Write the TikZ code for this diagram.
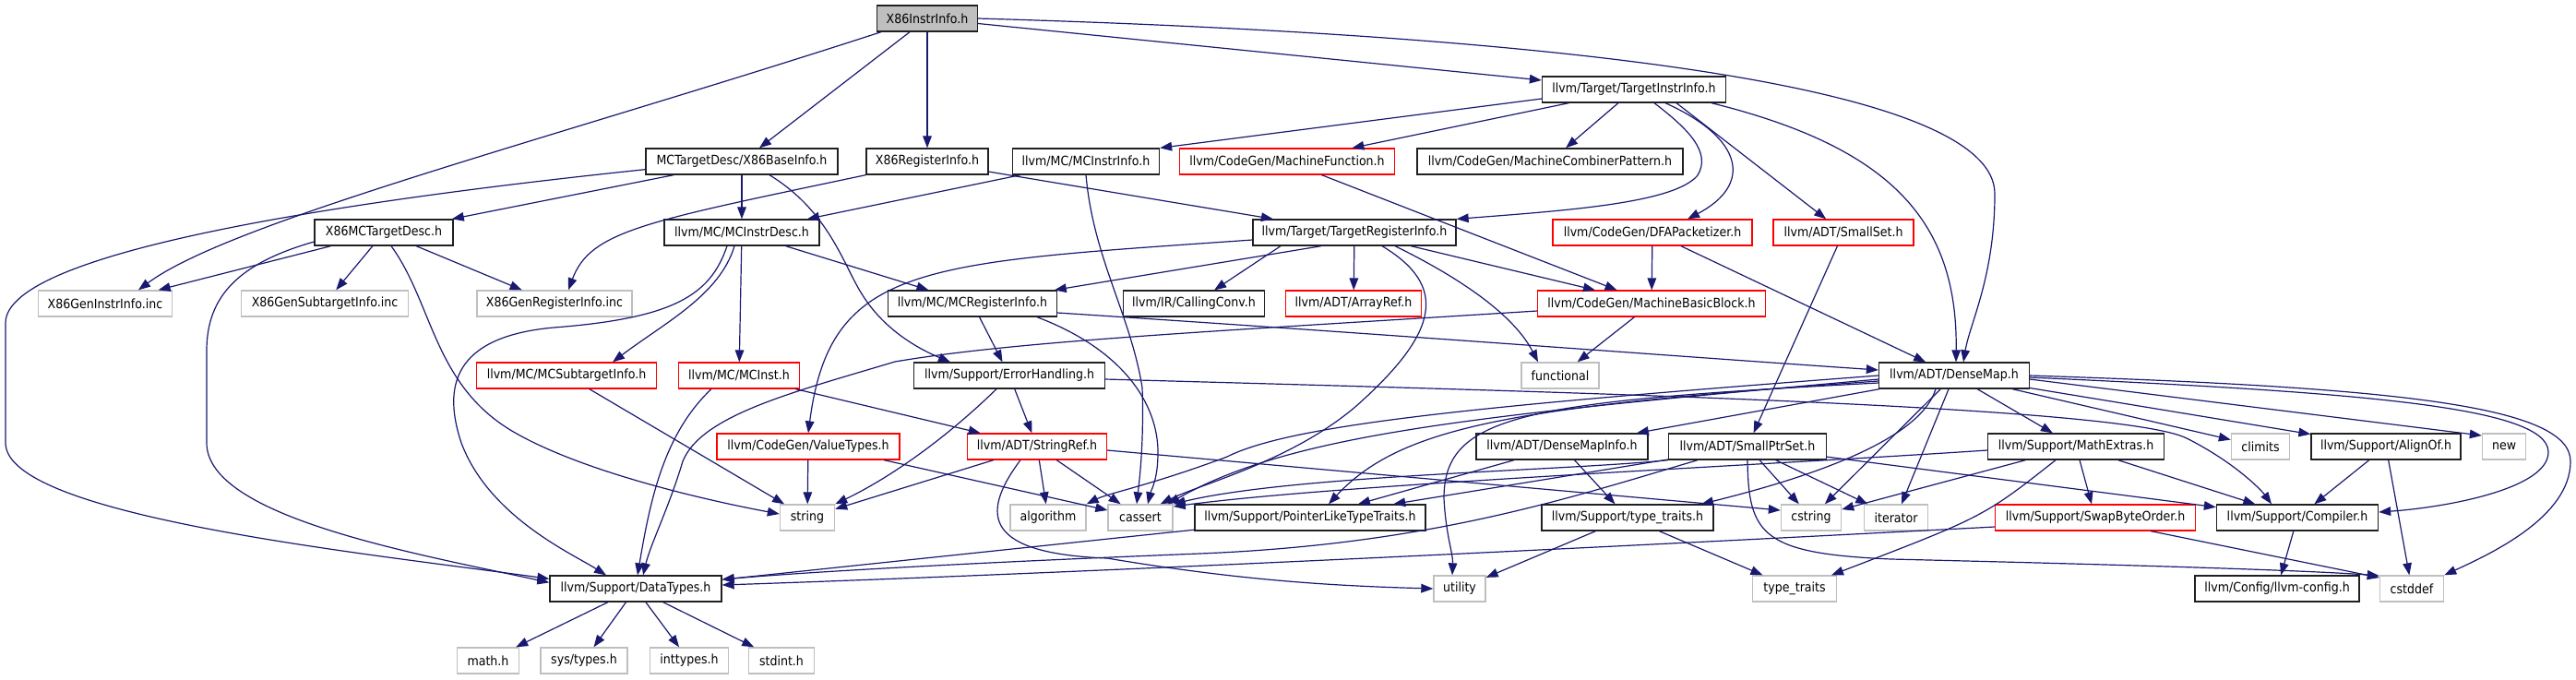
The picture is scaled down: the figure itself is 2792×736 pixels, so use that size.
\documentclass[tikz,border=0pt]{standalone}
\usepackage{fontspec}
\setmainfont{DejaVu Sans}[FakeStretch=0.9]
\usetikzlibrary{arrows.meta}
\definecolor{edgeblue}{HTML}{191970}
\definecolor{boxgray}{HTML}{BFBFBF}
\definecolor{boxred}{HTML}{FF0000}
\definecolor{boxblack}{HTML}{202020}
\tikzset{
  nd/.style={draw=boxblack, line width=0.65pt, fill=white, minimum height=14pt, inner sep=0pt,
             font=\fontsize{7pt}{8pt}\selectfont, text=black},
  bk/.style={nd},
  rd/.style={nd, draw=boxred, line width=0.6pt},
  gr/.style={nd, draw=boxgray, line width=0.7pt},
  rootbox/.style={nd, fill=boxgray},
  e/.style={draw=edgeblue, line width=0.6pt, -{Triangle[length=6.5pt,width=4.8pt]}},
}
\begin{document}
\begin{tikzpicture}[x=0.5pt,y=-0.5pt]
\useasboundingbox (0,0) rectangle (2792,736);
% row 0
\node[rootbox, minimum width=54.5pt] (root) at (1005,20) {X86InstrInfo.h};
% row 1
\node[bk, minimum width=99.5pt] (tii) at (1771,97) {llvm/Target/TargetInstrInfo.h};
% row 2
\node[bk, minimum width=104pt] (xbi) at (804,175) {MCTargetDesc/X86BaseInfo.h};
\node[bk, minimum width=66pt] (xri) at (1005,175) {X86RegisterInfo.h};
\node[bk, minimum width=79.5pt] (mcii) at (1177,175) {llvm/MC/MCInstrInfo.h};
\node[rd, minimum width=116.5pt] (mf) at (1395,175) {llvm/CodeGen/MachineFunction.h};
\node[bk, minimum width=144pt] (mcp) at (1680,175) {llvm/CodeGen/MachineCombinerPattern.h};
% row 3
\node[bk, minimum width=75pt] (x86d) at (416,252) {X86MCTargetDesc.h};
\node[bk, minimum width=84pt] (mid) at (804,252) {llvm/MC/MCInstrDesc.h};
\node[bk, minimum width=110pt] (tri) at (1468,252) {llvm/Target/TargetRegisterInfo.h};
\node[rd, minimum width=108pt] (dfa) at (1791,252) {llvm/CodeGen/DFAPacketizer.h};
\node[rd, minimum width=76pt] (ss) at (1998,252) {llvm/ADT/SmallSet.h};
% row 4
\node[gr, minimum width=72.5pt] (gii) at (114,329) {X86GenInstrInfo.inc};
\node[gr, minimum width=90.5pt] (gsi) at (352,329) {X86GenSubtargetInfo.inc};
\node[gr, minimum width=84pt] (ggr) at (601,329) {X86GenRegisterInfo.inc};
\node[bk, minimum width=91.5pt] (mcri) at (1054,329) {llvm/MC/MCRegisterInfo.h};
\node[bk, minimum width=76.5pt] (cc) at (1294,329) {llvm/IR/CallingConv.h};
\node[rd, minimum width=73.5pt] (ar) at (1467,329) {llvm/ADT/ArrayRef.h};
\node[rd, minimum width=123.5pt] (mbb) at (1790,329) {llvm/CodeGen/MachineBasicBlock.h};
% row 5
\node[rd, minimum width=97.5pt] (mcsi) at (614,407) {llvm/MC/MCSubtargetInfo.h};
\node[rd, minimum width=65.5pt] (mcinst) at (801,407) {llvm/MC/MCInst.h};
\node[bk, minimum width=103.5pt] (eh) at (1094,407) {llvm/Support/ErrorHandling.h};
\node[gr, minimum width=42pt] (fn) at (1691,407) {functional};
\node[bk, minimum width=81.5pt] (dm) at (2118,407) {llvm/ADT/DenseMap.h};
% row 6
\node[rd, minimum width=99pt] (vt) at (876,484) {llvm/CodeGen/ValueTypes.h};
\node[rd, minimum width=75.5pt] (sr) at (1124,484) {llvm/ADT/StringRef.h};
\node[bk, minimum width=93pt] (dmi) at (1693,484) {llvm/ADT/DenseMapInfo.h};
\node[bk, minimum width=85.5pt] (spt) at (1894,484) {llvm/ADT/SmallPtrSet.h};
\node[bk, minimum width=95.5pt] (me) at (2250,484) {llvm/Support/MathExtras.h};
\node[gr, minimum width=31.5pt] (cl) at (2450,484) {climits};
\node[bk, minimum width=81pt] (ao) at (2586,484) {llvm/Support/AlignOf.h};
\node[gr, minimum width=23.5pt] (nw) at (2714,484) {new};
% row 7
\node[gr, minimum width=29.5pt] (str) at (875,561) {string};
\node[gr, minimum width=41pt] (algo) at (1136,561) {algorithm};
\node[gr, minimum width=35pt] (cas) at (1236,561) {cassert};
\node[bk, minimum width=125pt] (pl) at (1420,561) {llvm/Support/PointerLikeTypeTraits.h};
\node[bk, minimum width=93pt] (tt) at (1764,561) {llvm/Support/type\_traits.h};
\node[gr, minimum width=32.5pt] (cstr) at (1963,561) {cstring};
\node[gr, minimum width=34.5pt] (it) at (2055,561) {iterator};
\node[rd, minimum width=108.5pt] (sbo) at (2271,561) {llvm/Support/SwapByteOrder.h};
\node[bk, minimum width=87.5pt] (comp) at (2490,561) {llvm/Support/Compiler.h};
% row 8
\node[bk, minimum width=93pt] (dt) at (689,638) {llvm/Support/DataTypes.h};
\node[gr, minimum width=28pt] (util) at (1582,638) {utility};
\node[gr, minimum width=45.5pt] (stt) at (1945,638) {type\_traits};
\node[bk, minimum width=89pt] (cfg) at (2468,638) {llvm/Config/llvm-config.h};
\node[gr, minimum width=34.5pt] (cdef) at (2614,638) {cstddef};
% row 9
\node[gr, minimum width=33.5pt] (math) at (529,716) {math.h};
\node[gr, minimum width=47pt] (syst) at (633,716) {sys/types.h};
\node[gr, minimum width=42.5pt] (intt) at (747,716) {inttypes.h};
\node[gr, minimum width=35.5pt] (stdi) at (847,716) {stdint.h};

% ---- edges ----
% root
\draw[e] ([xshift=-25pt]root.south) .. controls (600,150) and (250,240) .. ([xshift=18pt]gii.north);
\draw[e] (root) -- (xbi);
\draw[e] (root) -- (xri);
\draw[e] (root) -- (tii);
\draw[e] (root.east) .. controls (1750,40) and (2162,100) .. (2162,210) .. controls (2162,300) and (2135,350) .. ([xshift=5pt]dm.north);
% TargetInstrInfo
\draw[e] ([yshift=-5pt]tii.west) -- (mcii.north east);
\draw[e] (tii) -- (mf);
\draw[e] (tii) -- (mcp);
\draw[e] ([xshift=11pt]tii.south) .. controls (1830,140) and (1855,165) .. (1840,190) .. controls (1815,220) and (1700,228) .. (tri.north east);
\draw[e] ([xshift=17pt]tii.south) .. controls (1890,150) and (1900,200) .. ([xshift=19pt]dfa.north);
\draw[e] ([xshift=23pt]tii.south) -- (ss);
\draw[e] ([xshift=42pt]tii.south) .. controls (2050,160) and (2122,240) .. ([xshift=1pt]dm.north);
% X86BaseInfo
\draw[e] (xbi) -- (x86d);
\draw[e] ([yshift=3pt]xbi.south west) .. controls (400,215) and (6,270) .. (6,350) -- (6,480) .. controls (6,560) and (400,600) .. ([yshift=-2pt]dt.north west);
\draw[e] (xbi) -- (mid);
\draw[e] ([xshift=15pt]xbi.south) .. controls (900,230) and (915,290) .. (935,320) .. controls (960,360) and (1000,380) .. ([xshift=-32pt]eh.north);
% X86RegisterInfo
\draw[e] (xri.south west) .. controls (700,240) and (640,250) .. ([xshift=7.5pt]ggr.north);
\draw[e] (xri) -- (tri);
% MCInstrInfo
\draw[e] (mcii) -- (mid);
\draw[e] (mcii.south) .. controls (1185,280) and (1225,340) .. (1238,420) .. controls (1240,480) and (1235,520) .. ([xshift=-2pt]cas.north);
% MachineFunction
\draw[e] (mf) -- (mbb);
% X86MCTargetDesc
\draw[e] (x86d) -- (gii);
\draw[e] (x86d) -- (gsi);
\draw[e] (x86d) -- (ggr);
\draw[e] ([yshift=-5pt]x86d.west) .. controls (260,285) and (224,320) .. (224,380) -- (224,480) .. controls (224,560) and (450,600) .. ([yshift=-4pt]dt.north west);
\draw[e] ([xshift=4pt]x86d.south) .. controls (470,330) and (470,420) .. (560,470) .. controls (640,515) and (780,545) .. ([yshift=2pt]str.west);
% MCInstrDesc
\draw[e] (mid) -- (mcri);
\draw[e] ([xshift=-4pt]mid.south) .. controls (780,320) and (720,350) .. ([xshift=25pt]mcsi.north);
\draw[e] (mid) -- (mcinst);
\draw[e] ([xshift=-8pt]mid.south) .. controls (770,320) and (730,345) .. (600,355) .. controls (490,365) and (480,420) .. (500,480) .. controls (530,560) and (620,600) .. ([xshift=-16pt]dt.north);
% TargetRegisterInfo
\draw[e] ([xshift=-18pt]tri.south) -- (mcri);
\draw[e] ([xshift=-40pt]tri.south) -- (cc);
\draw[e] ([yshift=-4pt]tri.west) .. controls (1000,285) and (900,285) .. (vt.north);
\draw[e] (tri) -- (ar);
\draw[e] (tri) -- (mbb);
\draw[e] ([xshift=22pt]tri.south) .. controls (1580,300) and (1640,340) .. ([xshift=-12pt]fn.north);
\draw[e] ([xshift=15pt]tri.south) .. controls (1570,310) and (1560,360) .. (1470,440) .. controls (1400,500) and (1300,525) .. ([xshift=-7pt]cas.north east);
% MCRegisterInfo
\draw[e] (mcri) -- (eh);
\draw[e] ([xshift=35pt]mcri.south) .. controls (1220,380) and (1255,440) .. (1255,490) .. controls (1255,520) and (1248,530) .. ([xshift=4pt]cas.north);
\draw[e] ([yshift=-5pt]mcri.east) .. controls (1500,362) and (1800,385) .. ([yshift=3pt]dm.west);
% MachineBasicBlock
\draw[e] (mbb) -- (fn);
\draw[e] ([yshift=-4pt]mbb.west) .. controls (1300,360) and (1100,370) .. (970,392) .. controls (860,425) and (760,450) .. (740,500) .. controls (725,550) and (705,590) .. ([xshift=4pt]dt.north);
% DFAPacketizer, SmallSet
\draw[e] (dfa) -- (mbb);
\draw[e] (dfa) -- (dm);
\draw[e] (ss) -- (spt);
% MCSubtargetInfo, MCInst
\draw[e] (mcsi) -- (str);
\draw[e] ([xshift=-15pt]mcinst.south) .. controls (720,470) and (705,540) .. ([xshift=1pt]dt.north);
\draw[e] (mcinst) -- (sr);
% ErrorHandling
\draw[e] ([xshift=-7pt]eh.south) .. controls (1020,480) and (960,520) .. (str.north east);
\draw[e] (eh) -- (sr);
\draw[e] ([yshift=-2pt]eh.east) .. controls (1700,425) and (2300,440) .. (2370,475) .. controls (2420,500) and (2450,530) .. ([xshift=-14pt]comp.north);
% ValueTypes
\draw[e] (vt) -- (str);
\draw[e] ([xshift=41pt]vt.south) -- (cas);
% StringRef
\draw[e] (sr) -- (str);
\draw[e] (sr) -- (algo);
\draw[e] (sr) -- (cas);
\draw[e] ([xshift=-9pt]sr.south) .. controls (1060,560) and (1070,600) .. (1200,605) .. controls (1350,630) and (1450,635) .. (util.west);
\draw[e] ([yshift=-2pt]sr.east) -- ([yshift=4pt]cstr.west);
% DenseMapInfo
\draw[e] (dmi) -- (pl);
\draw[e] (dmi) -- (tt);
% SmallPtrSet
\draw[e] (spt) -- (pl);
\draw[e] ([xshift=-27pt]spt.south) .. controls (1700,540) and (1550,590) .. (1300,600) .. controls (1000,612) and (850,622) .. ([yshift=5pt]dt.east);
\draw[e] (spt.south west) .. controls (1700,510) and (1400,515) .. (cas.north east);
\draw[e] (spt) -- (cstr);
\draw[e] (spt) -- (it);
\draw[e] (spt) -- (comp);
\draw[e] (spt.south) .. controls (1895,580) and (1910,600) .. (2050,606) .. controls (2300,612) and (2500,618) .. ([yshift=7pt]cdef.west);
% DenseMap
\draw[e] (dm) -- (dmi);
\draw[e] (dm.west) .. controls (1600,440) and (1400,460) .. (1330,495) .. controls (1250,525) and (1200,535) .. (algo.north east);
\draw[e] ([yshift=-2pt]dm.west) .. controls (1600,450) and (1400,470) .. ([xshift=-3pt]cas.north east);
\draw[e] ([yshift=-3pt]dm.west) .. controls (1650,440) and (1520,460) .. ([xshift=10pt]pl.north);
\draw[e] ([yshift=-4pt]dm.west) .. controls (1650,435) and (1565,450) .. (1565,540) .. controls (1567,580) and (1575,600) .. ([xshift=-4pt]util.north);
\draw[e] ([xshift=-10pt]dm.south) .. controls (2080,480) and (1950,520) .. ([xshift=40pt]tt.north);
\draw[e] (dm) -- (cstr);
\draw[e] (dm) -- (it);
\draw[e] (dm) -- (me);
\draw[e] (dm) -- (cl);
\draw[e] (dm) -- (ao);
\draw[e] ([yshift=-2pt]dm.east) -- ([yshift=6pt]nw.west);
\draw[e] ([yshift=-1pt]dm.east) .. controls (2550,425) and (2762,440) .. (2762,490) .. controls (2762,530) and (2650,550) .. ([yshift=3pt]comp.east);
\draw[e] (dm.east) .. controls (2600,420) and (2786,440) .. (2786,500) .. controls (2786,560) and (2700,600) .. (cdef.north east);
% MathExtras
\draw[e] ([yshift=-2pt]me.west) .. controls (1900,505) and (1450,525) .. ([yshift=6pt]cas.east);
\draw[e] (me) -- (cstr);
\draw[e] ([xshift=-11pt]me.south) .. controls (2150,560) .. ([xshift=20pt]stt.north);
\draw[e] (me) -- (sbo);
\draw[e] (me) -- (comp);
% AlignOf
\draw[e] (ao) -- (comp);
\draw[e] (ao) -- (cdef);
% SwapByteOrder
\draw[e] ([yshift=-5pt]sbo.west) .. controls (1800,590) and (1200,620) .. ([yshift=2pt]dt.east);
\draw[e] ([xshift=30pt]sbo.south) -- ([yshift=6pt]cdef.west);
% Compiler
\draw[e] (comp) -- (cfg);
% PointerLikeTypeTraits
\draw[e] (pl) -- (dt);
% type_traits.h
\draw[e] (tt) -- (util);
\draw[e] (tt) -- (stt);
% DataTypes
\draw[e] (dt) -- (math);
\draw[e] (dt) -- (syst);
\draw[e] (dt) -- (intt);
\draw[e] (dt) -- (stdi);
\end{tikzpicture}
\end{document}
